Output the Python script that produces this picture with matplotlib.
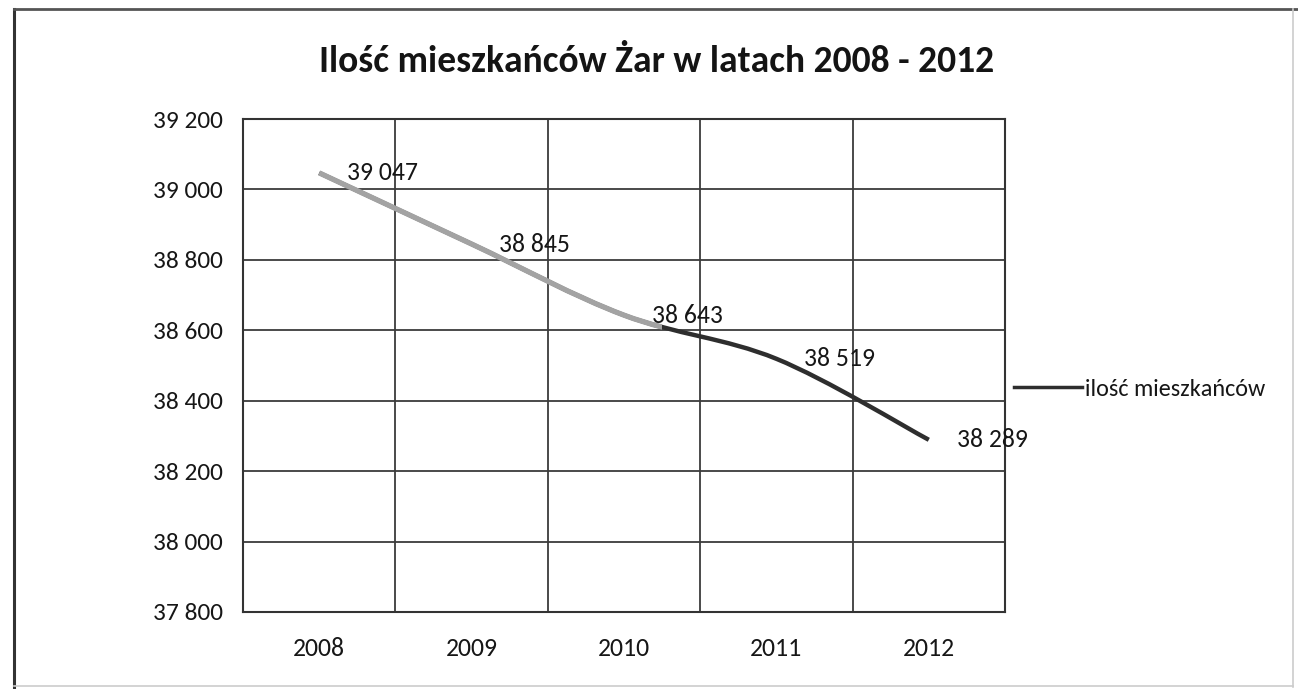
import numpy as np
import matplotlib
matplotlib.use('Agg')
import matplotlib.pyplot as plt
from matplotlib.path import Path
from matplotlib.patches import PathPatch, Rectangle
from matplotlib.lines import Line2D
import logging
logging.getLogger('matplotlib.font_manager').setLevel(logging.ERROR)

# ---- data ----
years = ['2008', '2009', '2010', '2011', '2012']
residents = [39047, 38845, 38643, 38519, 38289]
series_name = 'ilość mieszkańców'
title_text = 'Ilość mieszkańców Żar w latach 2008 - 2012'
y_ticks = [37800, 38000, 38200, 38400, 38600, 38800, 39000, 39200]

plt.rcParams['font.family'] = ['Carlito', 'Lato', 'DejaVu Sans']

W, H = 1298, 689
fig = plt.figure(figsize=(W / 100, H / 100), dpi=100)
fig.patch.set_facecolor('white')

ax = fig.add_axes([243 / W, 1 - 612 / H, (1005 - 243) / W, (612 - 119) / H])

x = np.arange(len(years))
ax.set_xlim(-0.5, len(years) - 0.5)
ax.set_ylim(y_ticks[0], y_ticks[-1])

txt_col = '#161616'
grid_col = '#3c3c3c'
ax.set_xticks(x)
ax.set_xticklabels(years, fontsize=18.5, color=txt_col)
ax.set_xticks(np.arange(-0.5, len(years)), minor=True)
ax.set_yticks(y_ticks)
ax.set_yticklabels([f'{v:,}'.replace(',', ' ') for v in y_ticks], fontsize=18.3, color=txt_col)
ax.tick_params(axis='both', which='both', length=0)
ax.tick_params(axis='x', pad=18)
ax.tick_params(axis='y', pad=14.5)
ax.grid(which='minor', axis='x', color=grid_col, lw=1.3)
ax.grid(which='major', axis='y', color=grid_col, lw=1.3)
ax.grid(which='major', axis='x', visible=False)
for s in ax.spines.values():
    s.set_color('#333333')
    s.set_linewidth(1.5)

# ---- smoothed line (Bezier through the data points) ----
pts = np.column_stack([x, residents]).astype(float)
ext = np.vstack([pts[0], pts, pts[-1]])
verts = [tuple(pts[0])]
codes = [Path.MOVETO]
for i in range(len(pts) - 1):
    p0, p1, p2, p3 = ext[i], ext[i + 1], ext[i + 2], ext[i + 3]
    c1 = p1 + (p2 - p0) / 6.0
    c2 = p2 - (p3 - p1) / 6.0
    verts += [tuple(c1), tuple(c2), tuple(p2)]
    codes += [Path.CURVE4] * 3
path = Path(verts, codes)

dark = PathPatch(path, fill=False, edgecolor='#2e2e2e', lw=3.2,
                 transform=ax.transData, capstyle='butt', zorder=3)
ax.add_patch(dark)
gray = PathPatch(path, fill=False, edgecolor='#a3a3a3', lw=3.8,
                 transform=ax.transData, capstyle='butt', zorder=4)
ax.add_patch(gray)
clip = Rectangle((-0.5, y_ticks[0]), 2.75, y_ticks[-1] - y_ticks[0], transform=ax.transData)
gray.set_clip_path(clip)

# data labels
for xi, v in zip(x, residents):
    ax.annotate(f'{v:,}'.replace(',', ' '), (xi, v), xytext=(20, 0),
                textcoords='offset points', ha='left', va='center',
                fontsize=18.5, color=txt_col, zorder=5, annotation_clip=False)

# title
fig.text(657 / W, 1 - 62 / H, title_text, ha='center', va='center',
         fontsize=27, fontweight='bold', color='#141414')

# legend
handle = Line2D([], [], color='#2e2e2e', lw=2.5)
fig.legend([handle], [series_name], loc='center left',
           bbox_to_anchor=(1014 / W, 1 - 389 / H), frameon=False,
           borderpad=0, borderaxespad=0, handlelength=2.8,
           handletextpad=0.12, fontsize=17.4, labelcolor=txt_col)

# outer frame of the scanned chart
fig.add_artist(Line2D([14 / W, 14 / W], [1 - 9 / H, 1 - 687 / H], color='#333333', lw=2.2))
fig.add_artist(Line2D([14 / W, 1298 / W], [1 - 9 / H, 1 - 9 / H], color='#555555', lw=2.0))
fig.add_artist(Line2D([1293 / W, 1293 / W], [1 - 9 / H, 1 - 687 / H], color='#cccccc', lw=1.2))
fig.add_artist(Line2D([14 / W, 1293 / W], [1 - 686 / H, 1 - 686 / H], color='#cccccc', lw=1.2))

fig.savefig('out.png', dpi=100, facecolor='white')
